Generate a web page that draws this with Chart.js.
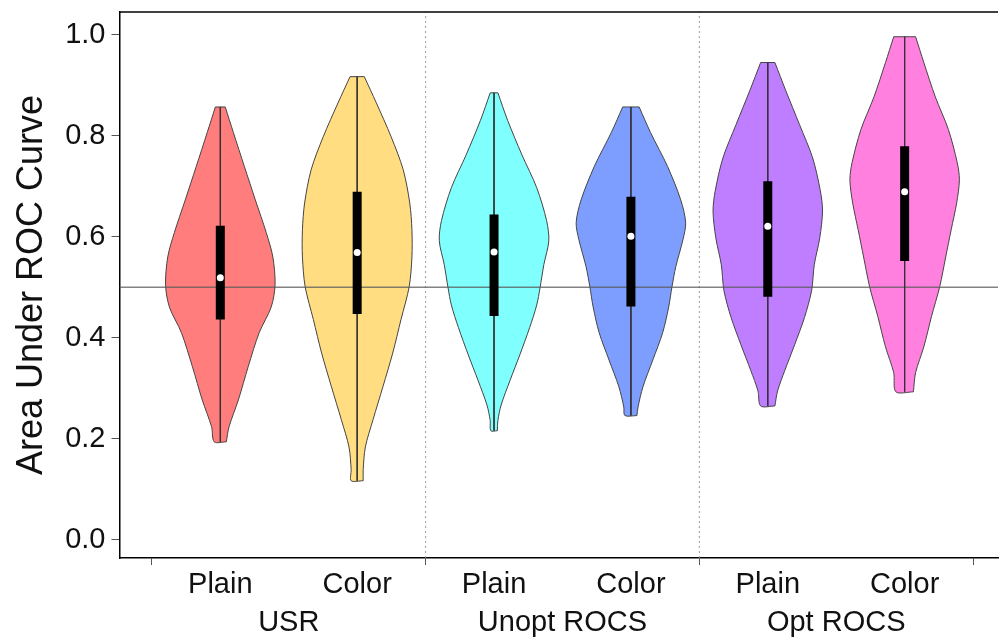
<!DOCTYPE html>
<html>
<head>
<meta charset="utf-8">
<script src="https://cdn.jsdelivr.net/npm/chart.js@4.4.1/dist/chart.umd.min.js"></script>
<style>
  html, body { margin: 0; padding: 0; background: #fff; overflow: hidden; }
  #wrap { width: 1002px; height: 637px; }
</style>
</head>
<body>
<div id="wrap"><canvas id="c" width="1002" height="637"></canvas></div>
<script>
// categories
const groups = ['USR', 'Unopt ROCS', 'Opt ROCS'];
const methods = ['Plain', 'Color'];
const yTicks = [0, 0.2, 0.4, 0.6, 0.8, 1.0];

// box stats per violin (USR plain, USR color, Unopt plain, Unopt color, Opt plain, Opt color)
const q1 = [0.436, 0.447, 0.443, 0.462, 0.481, 0.552];
const medians = [0.519, 0.569, 0.570, 0.601, 0.621, 0.689];
const q3 = [0.622, 0.689, 0.644, 0.679, 0.710, 0.779];

// density outlines (AUC value, relative density)
const aucUsrPlain = [0.857, 0.806, 0.739, 0.673, 0.608, 0.560, 0.505, 0.461, 0.410, 0.343, 0.277, 0.224, 0.194];
const denUsrPlain = [0.09, 0.24, 0.44, 0.64, 0.84, 0.96, 1.00, 0.93, 0.71, 0.51, 0.33, 0.16, 0.11];
const aucUsrColor = [0.917, 0.865, 0.798, 0.733, 0.667, 0.614, 0.560, 0.501, 0.436, 0.370, 0.303, 0.238, 0.184, 0.139, 0.117];
const denUsrColor = [0.13, 0.35, 0.62, 0.84, 0.96, 1.00, 1.00, 0.95, 0.80, 0.65, 0.47, 0.29, 0.15, 0.11, 0.11];
const aucUnoptPlain = [0.885, 0.830, 0.762, 0.697, 0.632, 0.592, 0.545, 0.499, 0.465, 0.420, 0.366, 0.315, 0.267, 0.236, 0.216];
const denUnoptPlain = [0.07, 0.25, 0.51, 0.78, 0.96, 1.00, 0.91, 0.84, 0.78, 0.65, 0.47, 0.29, 0.13, 0.07, 0.06];
const aucUnoptColor = [0.857, 0.806, 0.739, 0.673, 0.628, 0.594, 0.541, 0.501, 0.461, 0.410, 0.356, 0.303, 0.263, 0.246];
const denUnoptColor = [0.15, 0.36, 0.67, 0.91, 1.00, 0.95, 0.82, 0.75, 0.69, 0.58, 0.40, 0.22, 0.13, 0.11];
const aucOptPlain = [0.945, 0.889, 0.822, 0.756, 0.691, 0.651, 0.598, 0.545, 0.493, 0.440, 0.386, 0.335, 0.295, 0.265];
const denOptPlain = [0.13, 0.33, 0.58, 0.82, 0.96, 1.00, 0.95, 0.85, 0.80, 0.67, 0.49, 0.31, 0.18, 0.13];
const aucOptColor = [0.996, 0.945, 0.877, 0.812, 0.747, 0.713, 0.667, 0.614, 0.560, 0.501, 0.442, 0.382, 0.331, 0.293];
const denOptColor = [0.20, 0.35, 0.56, 0.80, 0.96, 1.00, 0.95, 0.85, 0.75, 0.64, 0.49, 0.35, 0.20, 0.16];

const profiles = [
  [aucUsrPlain, denUsrPlain], [aucUsrColor, denUsrColor],
  [aucUnoptPlain, denUnoptPlain], [aucUnoptColor, denUnoptColor],
  [aucOptPlain, denOptPlain], [aucOptColor, denOptColor]
];
const colors = ['#ff7d7d', '#ffdd80', '#80ffff', '#7d9eff', '#bf7dff', '#ff80df'];

// layout in x units: each group spans 4 units, violins at 1 and 3 within it
const X_MIN = -0.473, X_MAX = 12.364;
const Y_MIN = -0.036, Y_MAX = 1.045;
const HALF = 0.8;
const centers = [1, 3, 5, 7, 9, 11];

const datasets = [];

profiles.forEach(([auc, den], i) => {
  const cx = centers[i];
  const n = auc.length;
  const right = auc.map((v, k) => ({ x: cx + den[k] * HALF, y: v }));
  const left = auc.map((v, k) => ({ x: cx - den[k] * HALF, y: v })).reverse();
  // repeat the cap corners so the smoothing keeps the flat ends sharp
  const pts = right.concat([right[n - 1]], left, [left[n - 1]], [right[0]]);
  datasets.push({
    data: pts,
    borderColor: '#444',
    borderWidth: 1,
    backgroundColor: colors[i],
    fill: 'shape',
    tension: 0.3,
    pointRadius: 0,
    order: 6
  });
});

// chance line
datasets.push({
  data: [{ x: X_MIN, y: 0.5 }, { x: X_MAX, y: 0.5 }],
  borderColor: 'rgba(90,90,90,0.75)', borderWidth: 1.5, pointRadius: 0, fill: false, order: 5
});

// group separators
[4, 8].forEach(gx => {
  datasets.push({
    data: [{ x: gx, y: Y_MIN }, { x: gx, y: Y_MAX }],
    borderColor: '#999', borderWidth: 1, borderDash: [2, 3], pointRadius: 0, fill: false, order: 7
  });
});

// center lines, boxes, medians
profiles.forEach(([auc], i) => {
  const cx = centers[i];
  datasets.push({
    data: [{ x: cx, y: auc[0] }, { x: cx, y: auc[auc.length - 1] }],
    borderColor: '#333', borderWidth: 1, pointRadius: 0, fill: false, order: 4
  });
  datasets.push({
    data: [{ x: cx, y: q1[i] }, { x: cx, y: q3[i] }],
    borderColor: '#000', borderWidth: 9, borderCapStyle: 'butt', pointRadius: 0, fill: false, order: 3
  });
  datasets.push({
    data: [{ x: cx, y: medians[i] }],
    showLine: false, pointRadius: 3.5, pointBackgroundColor: '#fff', pointBorderWidth: 0, order: 2
  });
});

const topBorder = {
  id: 'topBorder',
  afterDraw(chart) {
    const { ctx, chartArea } = chart;
    ctx.save();
    ctx.strokeStyle = '#000';
    ctx.lineWidth = 1.5;
    ctx.beginPath();
    ctx.moveTo(chartArea.left, chartArea.top);
    ctx.lineTo(chartArea.right, chartArea.top);
    ctx.stroke();
    ctx.restore();
  }
};

const FONT = "'Liberation Sans', Arial, Helvetica, sans-serif";
const noPad = s => { s.paddingTop = 0; s.paddingBottom = 0; s.paddingLeft = 0; s.paddingRight = 0; };

new Chart(document.getElementById('c'), {
  type: 'line',
  data: { datasets },
  plugins: [topBorder],
  options: {
    responsive: false,
    animation: false,
    layout: { padding: { top: 12, left: 0, right: 0, bottom: 0 } },
    plugins: { legend: { display: false }, tooltip: { enabled: false } },
    scales: {
      x: {
        type: 'linear', min: X_MIN, max: X_MAX, position: 'bottom',
        afterBuildTicks: s => { s.ticks = [0,1,2,3,4,5,6,7,8,9,10,11,12].map(v => ({ value: v })); },
        afterFit: s => { s.height = 40; noPad(s); },
        ticks: {
          autoSkip: false, maxRotation: 0, padding: 3, color: '#111',
          font: { family: FONT, size: 29 },
          callback: v => (v % 2 === 1 ? methods[((v - 1) / 2) % 2] : '')
        },
        grid: {
          drawOnChartArea: false, tickLength: 7, tickWidth: 1,
          tickColor: c => (c.tick && c.tick.value % 4 === 0 ? '#555' : 'rgba(0,0,0,0)')
        },
        border: { display: true, color: '#000', width: 1.5 }
      },
      xg: {
        type: 'linear', min: X_MIN, max: X_MAX, position: 'bottom',
        afterBuildTicks: s => { s.ticks = [2, 6, 10].map(v => ({ value: v })); },
        afterFit: s => { s.height = 39; noPad(s); },
        ticks: {
          autoSkip: false, maxRotation: 0, padding: 0, color: '#111',
          font: { family: FONT, size: 29 },
          callback: v => groups[(v - 2) / 4]
        },
        grid: { display: false },
        border: { display: false }
      },
      y: {
        type: 'linear', min: Y_MIN, max: Y_MAX,
        afterBuildTicks: s => { s.ticks = yTicks.map(v => ({ value: v })); },
        afterFit: s => { s.width = 119.5; noPad(s); },
        ticks: {
          padding: 6, color: '#111',
          font: { family: FONT, size: 29 },
          callback: v => v.toFixed(1)
        },
        grid: { drawOnChartArea: false, tickLength: 8, tickColor: '#555' },
        border: { display: true, color: '#000', width: 1.5 },
        title: {
          display: true, text: 'Area Under ROC Curve', color: '#111',
          font: { family: FONT, size: 36 }, padding: { top: 10, bottom: 0 }
        }
      }
    }
  }
});
</script>
</body>
</html>
